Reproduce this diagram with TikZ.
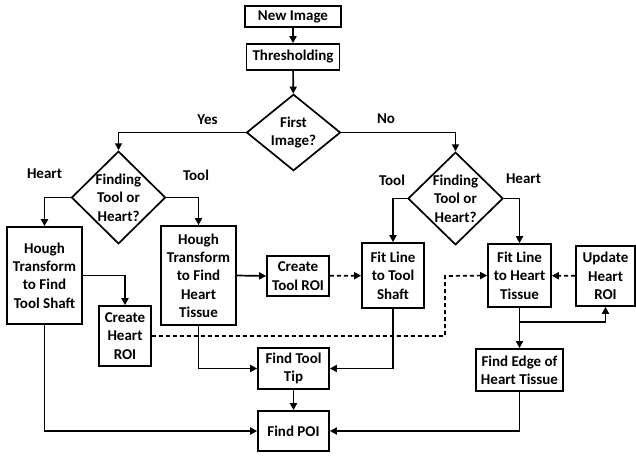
\documentclass[tikz,border=0pt]{standalone}
\usepackage{fontspec}
\setmainfont{Carlito}
\usetikzlibrary{shapes.geometric,arrows.meta}

\tikzset{
  box/.style={draw, line width=1.7pt, align=center, inner sep=1pt,
    font=\fontsize{15}{18.3}\selectfont\bfseries},
  decision/.style={draw, diamond, line width=1.7pt, align=center, inner sep=0pt,
    font=\fontsize{15}{18.3}\selectfont\bfseries},
  branch/.style={font=\fontsize{15}{18.3}\selectfont\bfseries},
  flow/.style={line width=1.7pt, -{Triangle[length=7pt,width=7pt]}},
  flowdash/.style={flow, dash pattern=on 4pt off 3pt}
}

\begin{document}
\begin{tikzpicture}[x=1pt,y=-1pt]
        \useasboundingbox (0,0) rectangle (636,456);
        % top of the chart
        \node[box, minimum width=96pt, minimum height=21pt] (new) at (293,16.5) {New Image};
        \node[box, minimum width=93pt, minimum height=26pt] (thr) at (293,57) {Thresholding};
        \node[decision, minimum width=94pt, minimum height=76pt] (first) at (293.5,132.5) {First\\Image?};
        \node[branch] (yes) at (207.5,119.5) {Yes};
        \node[branch] (no) at (386,119) {No};
        % first image branch
        \node[decision, minimum width=94pt, minimum height=91pt] (findL) at (118.5,197.5) {Finding\\Tool or\\Heart?};
        \node[branch] (heartL) at (44.5,173.5) {Heart};
        \node[branch] (toolL) at (196,175) {Tool};
        \node[box, minimum width=75pt, minimum height=97pt] (houghT) at (44.5,275.5) {Hough\\Transform\\to Find\\Tool Shaft};
        \node[box, minimum width=75pt, minimum height=99pt] (houghH) at (198.5,275.5) {Hough\\Transform\\to Find\\Heart\\Tissue};
        \node[box, minimum width=62pt, minimum height=40pt] (toolROI) at (298,276) {Create\\Tool ROI};
        \node[box, minimum width=52pt, minimum height=60pt] (heartROI) at (125,336) {Create\\Heart\\ROI};
        \node[box, minimum width=71pt, minimum height=41pt] (tip) at (293.5,368.5) {Find Tool\\Tip};
        \node[box, minimum width=71pt, minimum height=40pt] (poi) at (293.5,431) {Find POI};
        % later images
        \node[decision, minimum width=95pt, minimum height=92pt] (findR) at (455.5,198.5) {Finding\\Tool or\\Heart?};
        \node[branch] (toolR) at (392,180) {Tool};
        \node[branch] (heartR) at (523.5,179) {Heart};
        \node[box, minimum width=62pt, minimum height=65pt] (fitT) at (393,275.5) {Fit Line\\to Tool\\Shaft};
        \node[box, minimum width=63pt, minimum height=63pt] (fitH) at (519.5,275.5) {Fit Line\\to Heart\\Tissue};
        \node[box, minimum width=59pt, minimum height=60pt] (upd) at (605.5,276) {Update\\Heart\\ROI};
        \node[box, minimum width=87pt, minimum height=42pt] (edge) at (519.5,370) {Find Edge of\\Heart Tissue};
        \coordinate (bend) at (445,276);
        \coordinate (split) at (519.5,322);

        \draw[flow] (new) -- (thr);
        \draw[flow] (thr) -- (first);
        \draw[flow] (first.west) -| (findL.north);
        \draw[flow] (first.east) -| (findR.north);
        \draw[flow] (findL.west) -| (houghT.north);
        \draw[flow] (findL.east) -| (houghH.north);
        \draw[flow] (houghT.east) -| (heartROI.north);
        \draw[flow] (houghH.east) -- (toolROI.west);
        \draw[flow] (houghH.south) |- (tip.west);
        \draw[flow] (houghT.south) |- (poi.west);
        \draw[flow] (tip) -- (poi);
        \draw[flow] (findR.west) -| (fitT.north);
        \draw[flow] (findR.east) -| (fitH.north);
        \draw[flowdash] (toolROI) -- (fitT);
        \draw[flowdash] (heartROI.east) -| (bend) -- (fitH.west);
        \draw[flowdash] (upd) -- (fitH);
        \draw[flow] (fitH) -- (edge);
        \draw[flow] (split) -| (upd.south);
        \draw[flow] (fitT.south) |- (tip.east);
        \draw[flow] (edge.south) |- (poi.east);
    \end{tikzpicture}
\end{document}
